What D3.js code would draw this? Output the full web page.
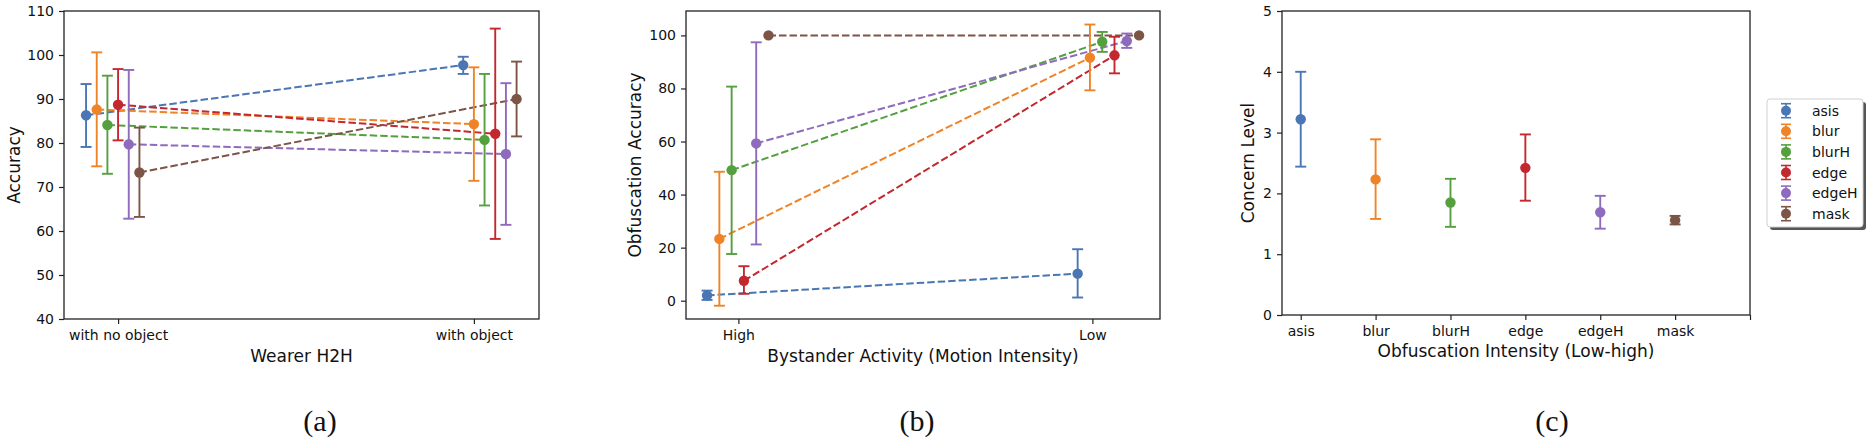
<!DOCTYPE html>
<html>
<head>
<meta charset="utf-8">
<script src="https://cdn.jsdelivr.net/npm/d3@7"></script>
<style>
  html, body { margin: 0; padding: 0; background: #fff; }
  svg { display: block; }
  text { font-family: "DejaVu Sans", sans-serif; fill: #111; }
</style>
</head>
<body>
<svg id="chart" width="1872" height="442"></svg>
<script>
// ---------------- DATA ----------------
const seriesNames = ["asis", "blur", "blurH", "edge", "edgeH", "mask"];
const seriesColors = ["#4a76b4", "#ef8327", "#54a03f", "#c3282e", "#8e6bbd", "#7d5546"];

// (a) Wearer H2H
const h2hCategories = ["with no object", "with object"];
const h2hNoObjMean = [86.3, 87.6, 84.1, 88.7, 79.7, 73.3];
const h2hNoObjLow  = [79.1, 74.7, 73.0, 80.6, 62.8, 63.2];
const h2hNoObjHigh = [93.4, 100.6, 95.3, 96.8, 96.6, 83.5];
const h2hObjMean   = [97.7, 84.3, 80.7, 82.1, 77.5, 90.0];
const h2hObjLow    = [95.7, 71.4, 65.8, 58.2, 61.4, 81.5];
const h2hObjHigh   = [99.6, 97.2, 95.7, 106.0, 93.6, 98.5];
const h2hTicks = [40, 50, 60, 70, 80, 90, 100, 110];

// (b) Bystander activity
const motionCategories = ["High", "Low"];
const motionHighMean = [2.0, 23.3, 49.2, 7.5, 59.3, 100];
const motionHighLow  = [0.3, -1.9, 17.6, 2.6, 21.2, 100];
const motionHighHigh = [3.8, 48.6, 80.7, 13.0, 97.4, 100];
const motionLowMean  = [10.2, 91.6, 97.6, 92.5, 97.9, 100];
const motionLowLow   = [1.2, 79.3, 93.8, 85.7, 95.3, 100];
const motionLowHigh  = [19.4, 104.1, 101.3, 99.5, 100.7, 100];
const motionTicks = [0, 20, 40, 60, 80, 100];

// (c) Concern level
const concernMean = [3.22, 2.23, 1.85, 2.42, 1.69, 1.56];
const concernLow  = [2.44, 1.58, 1.45, 1.88, 1.42, 1.49];
const concernHigh = [4.00, 2.89, 2.24, 2.97, 1.96, 1.63];
const concernTicks = [0, 1, 2, 3, 4, 5];

// ---------------- DRAW ----------------
const svg = d3.select("#chart");
svg.append("rect").attr("width", 1872).attr("height", 442).attr("fill", "#fff");

const R = 5.2, CAP = 5.5, EW = 1.9;

function frame(g, x0, x1, y0, y1) {
  g.append("rect").attr("x", x0).attr("y", y0).attr("width", x1 - x0).attr("height", y1 - y0)
    .attr("fill", "none").attr("stroke", "#222").attr("stroke-width", 1.3);
}

function styleAxis(sel) {
  sel.select(".domain").remove();
  sel.selectAll(".tick line").attr("stroke", "#222").attr("stroke-width", 1.2);
  sel.selectAll(".tick text").attr("font-size", 14).attr("font-family", "DejaVu Sans").attr("fill", "#111");
}

function errBar(g, x, lo, hi, color) {
  g.append("line").attr("x1", x).attr("x2", x).attr("y1", lo).attr("y2", hi)
    .attr("stroke", color).attr("stroke-width", EW);
  [lo, hi].forEach(y => g.append("line").attr("x1", x - CAP).attr("x2", x + CAP)
    .attr("y1", y).attr("y2", y).attr("stroke", color).attr("stroke-width", EW));
}

function panelTwoCat(opts) {
  const g = svg.append("g");
  const x = d3.scaleLinear().domain(opts.xDomain).range([opts.x0, opts.x1]);
  const y = d3.scaleLinear().domain(opts.yDomain).range([opts.y1, opts.y0]);

  const ya = g.append("g").attr("transform", `translate(${opts.x0},0)`)
    .call(d3.axisLeft(y).tickValues(opts.yTicks).tickSize(5).tickPadding(5).tickFormat(d3.format("d")));
  styleAxis(ya);
  const xa = g.append("g").attr("transform", `translate(0,${opts.y1})`)
    .call(d3.axisBottom(x).tickValues([0, 1]).tickSize(5).tickPadding(6).tickFormat(i => opts.cats[i]));
  styleAxis(xa);

  seriesNames.forEach((name, i) => {
    const pts = opts.means.map((m, c) => ({
      x: x(c + (i - opts.center[c]) * opts.step),
      y: y(m[i])
    }));
    g.append("path").attr("d", d3.line().x(d => d.x).y(d => d.y)(pts))
      .attr("fill", "none").attr("stroke", seriesColors[i]).attr("stroke-width", 2)
      .attr("stroke-dasharray", "7.5,3");
  });
  seriesNames.forEach((name, i) => {
    opts.means.forEach((m, c) => {
      const px = x(c + (i - opts.center[c]) * opts.step);
      if (opts.highs[c][i] !== opts.lows[c][i]) errBar(g, px, y(opts.lows[c][i]), y(opts.highs[c][i]), seriesColors[i]);
      g.append("circle").attr("cx", px).attr("cy", y(m[i])).attr("r", R).attr("fill", seriesColors[i]);
    });
  });

  frame(g, opts.x0, opts.x1, opts.y0, opts.y1);

  g.append("text").attr("x", (opts.x0 + opts.x1) / 2).attr("y", opts.y1 + 43)
    .attr("text-anchor", "middle").attr("font-size", 17).text(opts.xLabel);
  g.append("text").attr("transform", `translate(${opts.yLabelX},${(opts.y0 + opts.y1) / 2}) rotate(-90)`)
    .attr("text-anchor", "middle").attr("dominant-baseline", "central").attr("font-size", 17).text(opts.yLabel);
}

// (a)
panelTwoCat({
  x0: 64, x1: 539, y0: 11, y1: 319,
  xDomain: [-0.152, 1.183], yDomain: [40, 110], yTicks: h2hTicks,
  cats: h2hCategories, step: 0.03, center: [3, 1],
  means: [h2hNoObjMean, h2hObjMean], lows: [h2hNoObjLow, h2hObjLow], highs: [h2hNoObjHigh, h2hObjHigh],
  xLabel: "Wearer H2H", yLabel: "Accuracy", yLabelX: 14
});

// (b)
panelTwoCat({
  x0: 686, x1: 1160, y0: 11, y1: 319,
  xDomain: [-0.148, 1.191], yDomain: [-6.9, 109.2], yTicks: motionTicks,
  cats: motionCategories, step: 0.0347, center: [2.55, 1.2],
  means: [motionHighMean, motionLowMean], lows: [motionHighLow, motionLowLow], highs: [motionHighHigh, motionLowHigh],
  xLabel: "Bystander Activity (Motion Intensity)", yLabel: "Obfuscation Accuracy", yLabelX: 635
});

// (c)
(function () {
  const g = svg.append("g");
  const x0 = 1282, x1 = 1750, y0 = 11, y1 = 315;
  const x = d3.scaleLinear().domain([-0.25, 6.0]).range([x0, x1]);
  const y = d3.scaleLinear().domain([0, 5]).range([y1, y0]);
  const ya = g.append("g").attr("transform", `translate(${x0},0)`)
    .call(d3.axisLeft(y).tickValues(concernTicks).tickSize(5).tickPadding(5).tickFormat(d3.format("d")));
  styleAxis(ya);
  const xa = g.append("g").attr("transform", `translate(0,${y1})`)
    .call(d3.axisBottom(x).tickValues(d3.range(seriesNames.length + 1)).tickSize(5).tickPadding(6)
      .tickFormat(i => seriesNames[i] || ""));
  styleAxis(xa);
  seriesNames.forEach((name, i) => {
    errBar(g, x(i), y(concernLow[i]), y(concernHigh[i]), seriesColors[i]);
    g.append("circle").attr("cx", x(i)).attr("cy", y(concernMean[i])).attr("r", R).attr("fill", seriesColors[i]);
  });
  frame(g, x0, x1, y0, y1);
  g.append("text").attr("x", (x0 + x1) / 2).attr("y", y1 + 42)
    .attr("text-anchor", "middle").attr("font-size", 17).text("Obfuscation Intensity (Low-high)");
  g.append("text").attr("transform", `translate(1248,${(y0 + y1) / 2}) rotate(-90)`)
    .attr("text-anchor", "middle").attr("dominant-baseline", "central").attr("font-size", 17).text("Concern Level");

  // legend
  const lx = 1767, ly = 99, lw = 96, lh = 128;
  g.append("rect").attr("x", lx + 3).attr("y", ly + 3).attr("width", lw).attr("height", lh)
    .attr("rx", 3).attr("fill", "#555");
  g.append("rect").attr("x", lx).attr("y", ly).attr("width", lw).attr("height", lh)
    .attr("rx", 3).attr("fill", "#fff").attr("stroke", "#d0d0d0").attr("stroke-width", 1);
  seriesNames.forEach((name, i) => {
    const cy = ly + 11.7 + i * 20.6;
    const mx = lx + 19;
    g.append("line").attr("x1", mx).attr("x2", mx).attr("y1", cy - 7).attr("y2", cy + 7)
      .attr("stroke", seriesColors[i]).attr("stroke-width", 1.6);
    [cy - 7, cy + 7].forEach(yy => g.append("line").attr("x1", mx - 5).attr("x2", mx + 5)
      .attr("y1", yy).attr("y2", yy).attr("stroke", seriesColors[i]).attr("stroke-width", 1.6));
    g.append("circle").attr("cx", mx).attr("cy", cy).attr("r", 5).attr("fill", seriesColors[i]);
    g.append("text").attr("x", lx + 45).attr("y", cy).attr("dominant-baseline", "central")
      .attr("font-size", 14).text(name);
  });
})();

// sub-figure captions
[["(a)", 320], ["(b)", 917], ["(c)", 1552]].forEach(([t, cx]) => {
  svg.append("text").attr("x", cx).attr("y", 420).attr("text-anchor", "middle")
    .attr("dominant-baseline", "central")
    .style("font-family", "'Liberation Serif', 'DejaVu Serif', serif").attr("font-size", 30).text(t);
});
</script>
</body>
</html>
